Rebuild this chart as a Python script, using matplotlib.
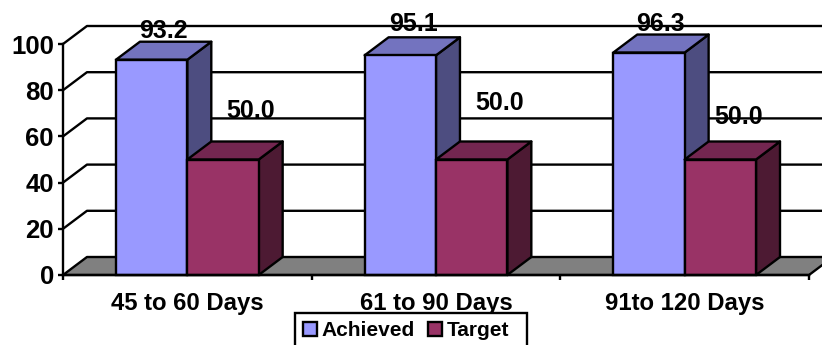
import matplotlib
matplotlib.use("Agg")
import matplotlib.pyplot as plt
from matplotlib.patches import Polygon, Patch, Rectangle

# ── Datos ────────────────────────────────────────────────────────────────────
categorias = ["45 to 60 Days", "61 to 90 Days", "91to 120 Days"]
achieved = [93.2, 95.1, 96.3]
target = [50.0, 50.0, 50.0]
ticks_y = [0, 20, 40, 60, 80, 100]

# ── Estilo ───────────────────────────────────────────────────────────────────
C_ACHIEVED = ("#9999FF", "#7373BF", "#4D4D80")  # frente, tapa, lado
C_TARGET = ("#993366", "#732650", "#4D1A33")
ANCHO = 0.287
MARGEN = 0.213
DX = 24 / 249   # profundidad en unidades de categoría
DY = 18 / 2.31  # profundidad en unidades de valor
LW = 1.7
FUENTE = "Liberation Sans"

W, H = 822, 345
fig = plt.figure(figsize=(W / 100, H / 100), dpi=100, facecolor="white")
ax = fig.add_axes([63 / W, 1 - 275 / H, 746 / W, 231 / H])
ax.set_xlim(0, 3)
ax.set_ylim(0, 100)

for spine in ["top", "right"]:
    ax.spines[spine].set_visible(False)
for spine in ["left", "bottom"]:
    ax.spines[spine].set_linewidth(LW)
    ax.spines[spine].set_zorder(20)


def poligono(puntos, color, z):
    p = Polygon(puntos, closed=True, facecolor=color, edgecolor="black",
                linewidth=LW, joinstyle="round", clip_on=False, zorder=z)
    ax.add_patch(p)


# Paredes: rejilla del fondo y diagonales de la pared izquierda
for v in ticks_y[1:]:
    ax.plot([0, DX, 3.1], [v, v + DY, v + DY], color="black", lw=LW,
            clip_on=False, zorder=1, solid_joinstyle="round")

# Suelo gris
poligono([(0, 0), (DX, DY), (3 + DX, DY), (3, 0)], "#808080", 2)


def barra_3d(x, valor, colores, z):
    frente, tapa, lado = colores
    poligono([(x + ANCHO, 0), (x + ANCHO + DX, DY),
              (x + ANCHO + DX, valor + DY), (x + ANCHO, valor)], lado, z)
    poligono([(x, valor), (x + DX, valor + DY),
              (x + ANCHO + DX, valor + DY), (x + ANCHO, valor)], tapa, z)
    ax.bar(x, valor, width=ANCHO, align="edge", color=frente,
           edgecolor="black", linewidth=LW, zorder=z, clip_on=False)


for i in range(len(categorias)):
    barra_3d(i + MARGEN, achieved[i], C_ACHIEVED, 3 + 2 * i)
    barra_3d(i + MARGEN + ANCHO, target[i], C_TARGET, 4 + 2 * i)

# Etiquetas de valor, desplazadas en píxeles desde el borde de la tapa
desp_a = [(12, 11), (13, 13), (11, 11)]
desp_t = [(28, 30), (28, 38), (18, 24)]
for i in range(len(categorias)):
    xa = i + MARGEN + ANCHO / 2
    xt = i + MARGEN + ANCHO * 1.5
    for x, v, (ox, oy) in [(xa, achieved[i], desp_a[i]), (xt, target[i], desp_t[i])]:
        ax.annotate(f"{v:.1f}", xy=(x, v + DY), xytext=(ox * 0.72, oy * 0.72),
                    textcoords="offset points", ha="center", va="center",
                    fontsize=18, fontweight="bold", family=FUENTE,
                    color="black", zorder=30, annotation_clip=False)

ax.set_yticks(ticks_y)
ax.set_yticklabels([str(t) for t in ticks_y], fontsize=18.5, fontweight="bold",
                   family=FUENTE)
ax.set_xticks([0, 1, 2, 3])
ax.set_xticklabels([])
ax.tick_params(axis="both", length=3.6, width=LW, pad=3, color="black")
for i, c in enumerate(categorias):
    ax.annotate(c, xy=(i + 0.5, 0), xytext=(0, -20.5), textcoords="offset points",
                ha="center", va="center", fontsize=17.2, fontweight="bold",
                family=FUENTE, annotation_clip=False)

# Leyenda: el marco sale por el borde inferior de la figura
fig.add_artist(Rectangle((295 / W, -0.05), 232 / W, 1 - 313 / H + 0.05,
                         transform=fig.transFigure, facecolor="white",
                         edgecolor="black", linewidth=LW, zorder=5))
handles = [Patch(facecolor=C_ACHIEVED[0], edgecolor="black", linewidth=LW, label="Achieved"),
           Patch(facecolor=C_TARGET[0], edgecolor="black", linewidth=LW, label="Target")]
leg = fig.legend(handles=handles, ncol=2, loc="upper left",
                 bbox_to_anchor=(295 / W, 1 - 313 / H), borderaxespad=0,
                 frameon=False, prop={"family": FUENTE, "weight": "bold", "size": 15},
                 handlelength=0.67, handleheight=0.67, handletextpad=0.22,
                 columnspacing=0.62, borderpad=0.4)
leg.set_zorder(6)

fig.savefig("out.png", dpi=100)
